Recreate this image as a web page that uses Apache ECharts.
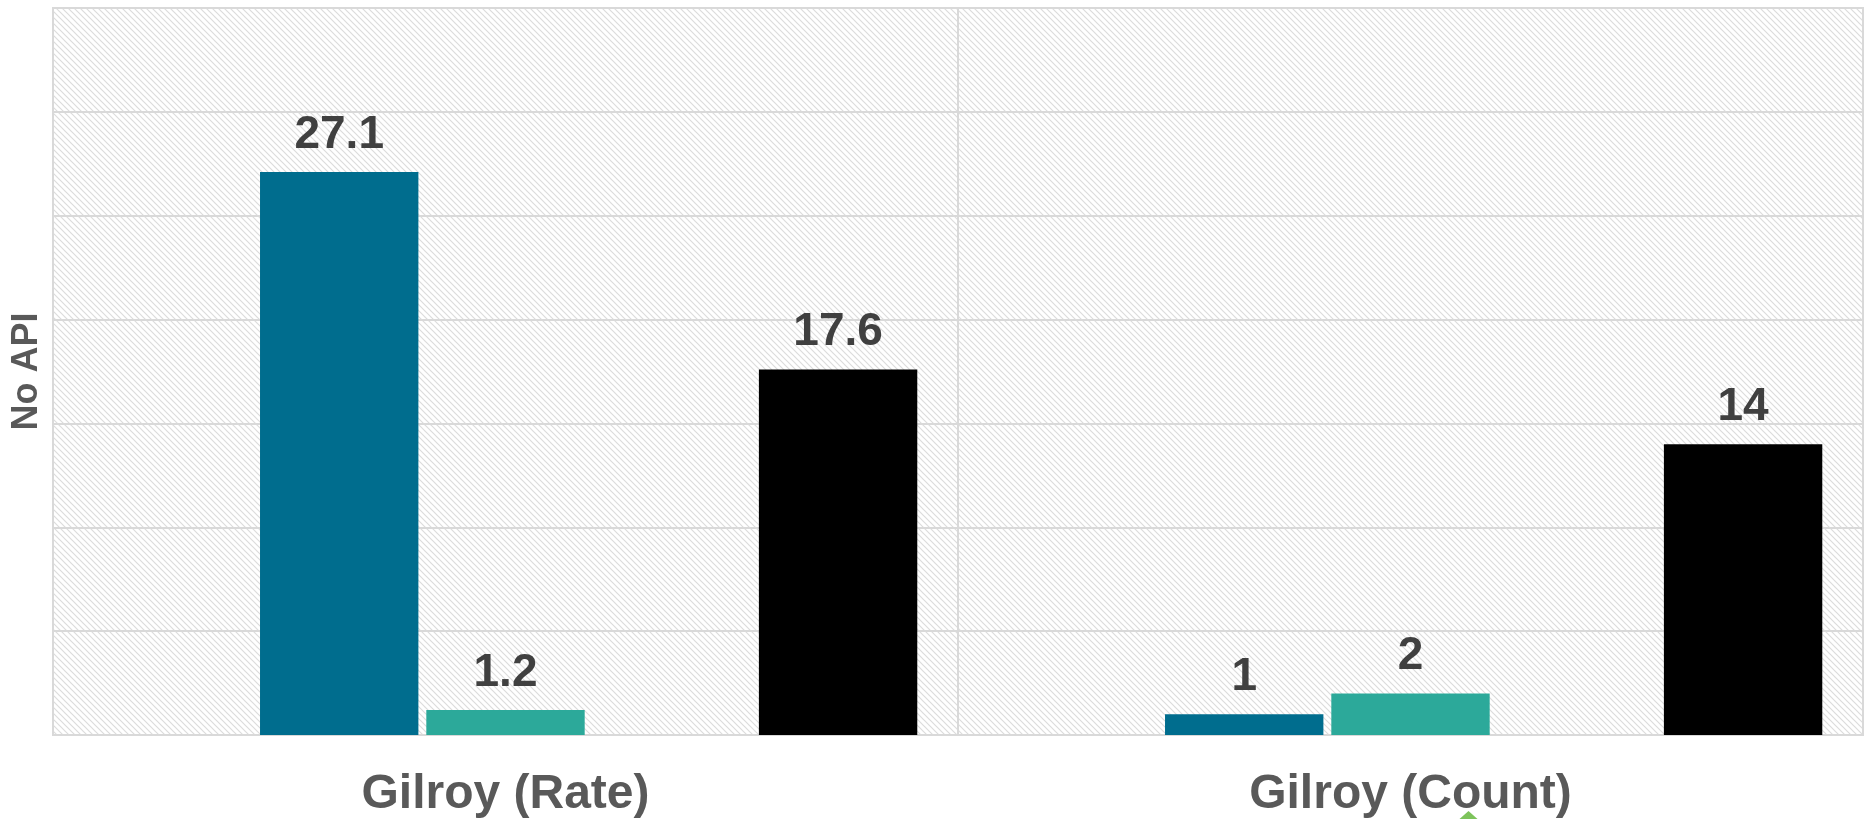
<!DOCTYPE html>
<html>
<head>
<meta charset="utf-8">
<script src="https://cdn.jsdelivr.net/npm/echarts@6/dist/echarts.min.js"></script>
<style>
html,body{margin:0;padding:0;background:#fff;}
#chart{width:1869px;height:819px;}
</style>
</head>
<body>
<div id="chart"></div>
<script>
const categories = ['Gilroy (Rate)', 'Gilroy (Count)'];
const seriesNames = ['Series A', 'Series B', 'Series C', 'Series D', 'Series E'];
const seriesA = [null, null];
const seriesB = [27.1, 1];
const seriesC = [1.2, 2];
const seriesD = [null, null];
const seriesE = [17.6, 14];
const seriesColors = ['#a5a5a5', '#006d8e', '#2ca99a', '#7dc35b', '#000000'];
const yTicks = { min: 0, max: 35, interval: 5 };

const tile = document.createElement('canvas');
tile.width = 6; tile.height = 6;
const tctx = tile.getContext('2d');
tctx.fillStyle = '#ffffff';
tctx.fillRect(0, 0, 6, 6);
tctx.strokeStyle = '#dcdcdc';
tctx.lineWidth = 1.2;
for (const o of [-6, 0, 6]) {
  tctx.beginPath();
  tctx.moveTo(o - 1, -1);
  tctx.lineTo(o + 7, 7);
  tctx.stroke();
}

const chart = echarts.init(document.getElementById('chart'), null, { renderer: 'canvas' });
const allData = [seriesA, seriesB, seriesC, seriesD, seriesE];
const series = allData.map((d, i) => ({
  name: seriesNames[i],
  type: 'bar',
  data: d,
  barGap: '5%',
  barCategoryGap: '9%',
  itemStyle: { color: seriesColors[i] },
  label: {
    show: true,
    position: 'top',
    distance: 14,
    fontFamily: 'Liberation Sans',
    fontWeight: 'bold',
    fontSize: 46,
    color: '#404040'
  }
}));

chart.setOption({
  animation: false,
  backgroundColor: '#ffffff',
  grid: {
    left: 53, right: 6, top: 8, bottom: 84,
    show: true,
    backgroundColor: { image: tile, repeat: 'repeat' },
    borderColor: '#d9d9d9',
    borderWidth: 2
  },
  legend: {
    orient: 'vertical',
    left: 1455,
    top: 811,
    padding: 0,
    icon: 'triangle',
    itemWidth: 27,
    itemHeight: 12,
    data: [seriesNames[3]],
    formatter: () => '',
    textStyle: { fontSize: 12, color: '#595959' }
  },
  xAxis: {
    type: 'category',
    data: categories,
    axisLine: { lineStyle: { color: '#d9d9d9', width: 2 } },
    axisTick: { show: false },
    splitLine: { show: true, lineStyle: { color: '#d9d9d9', width: 2 } },
    axisLabel: {
      margin: 36,
      fontFamily: 'Liberation Sans',
      fontWeight: 'bold',
      fontSize: 48,
      color: '#595959'
    }
  },
  yAxis: {
    type: 'value',
    min: yTicks.min, max: yTicks.max, interval: yTicks.interval,
    name: 'No API',
    nameLocation: 'middle',
    nameGap: 8,
    nameTextStyle: {
      fontFamily: 'Liberation Sans',
      fontWeight: 'bold',
      fontSize: 36,
      color: '#595959'
    },
    axisLine: { show: false },
    axisTick: { show: false },
    axisLabel: { show: false },
    splitLine: { show: true, lineStyle: { color: '#d9d9d9', width: 2 } }
  },
  series: series
});
</script>
</body>
</html>
